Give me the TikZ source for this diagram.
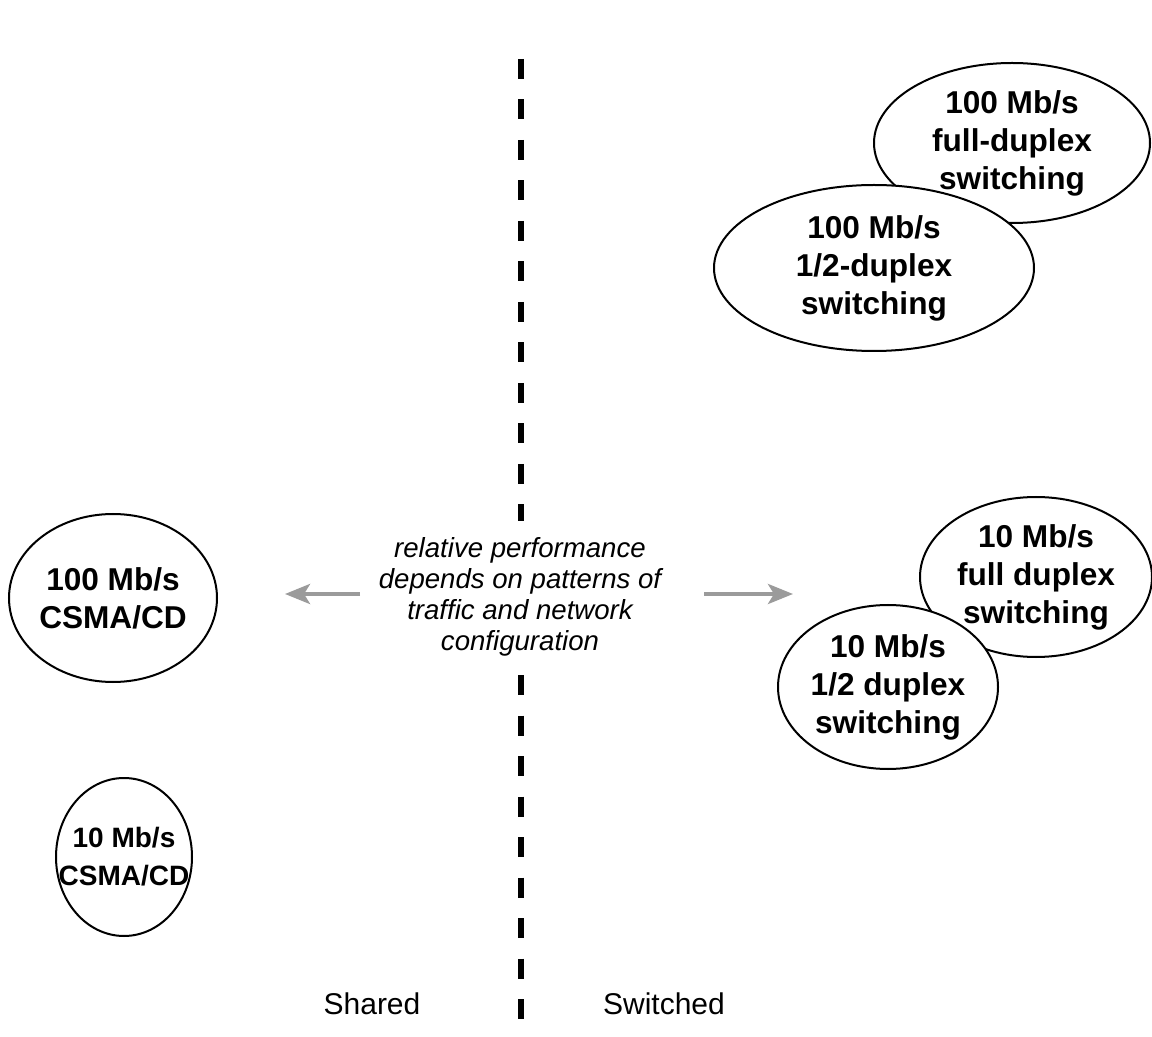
\documentclass[tikz,border=0pt]{standalone}
\usepackage{fontspec}
\setmainfont{Liberation Sans}
\usepackage{tikz}
\usetikzlibrary{shapes.geometric,arrows.meta}
\definecolor{arrowgray}{RGB}{155,155,155}

\begin{document}
\begin{tikzpicture}[x=0.5pt,y=-0.5pt,
                    bubble/.style={ellipse,draw,line width=1pt,fill=white,inner sep=0pt},
                    bubble text/.style={align=center,font=\fontsize{15.8}{19}\selectfont\bfseries},
                    divider/.style={line width=3pt,dash pattern=on 10pt off 10.25pt},
                    side arrow/.style={line width=2pt,arrowgray,-{Stealth[length=12.5pt,width=10pt,inset=3pt]}}]
\useasboundingbox (0,0) rectangle (1152,1037);

\node[bubble,minimum width=138pt,minimum height=80pt] (FullHundred) at (1012,143) {};
\node[bubble text] (FullHundredText) at (FullHundred) {100 Mb/s\\full-duplex\\switching};
\node[bubble,minimum width=160pt,minimum height=83pt] (HalfHundred) at (874,268) {};
\node[bubble text] (HalfHundredText) at (HalfHundred) {100 Mb/s\\1/2-duplex\\switching};

\node[bubble,minimum width=116pt,minimum height=80pt] (FullTen) at (1036,577) {};
\node[bubble text] (FullTenText) at (FullTen) {10 Mb/s\\full duplex\\switching};
\node[bubble,minimum width=110pt,minimum height=82pt] (HalfTen) at (888,687) {};
\node[bubble text] (HalfTenText) at (HalfTen) {10 Mb/s\\1/2 duplex\\switching};

\node[bubble,minimum width=104pt,minimum height=84pt] (CsmaHundred) at (113,598) {};
\node[bubble text] (CsmaHundredText) at (CsmaHundred) {100 Mb/s\\CSMA/CD};
\node[bubble,minimum width=68pt,minimum height=79pt] (CsmaTen) at (124,857) {};
\node[bubble text,font=\fontsize{14}{19}\selectfont\bfseries] (CsmaTenText) at (CsmaTen) {10 Mb/s\\CSMA/CD};

\node[align=center,font=\fontsize{13.8}{15.5}\selectfont\itshape] (Note) at (520,597)
    {relative performance\\depends on patterns of\\traffic and network\\configuration};

\coordinate (DividerTop) at (521,59);
\coordinate (DividerGapTop) at (521,521);
\coordinate (DividerGapBottom) at (521,675);
\coordinate (DividerBottom) at (521,1020);
\draw[divider] (DividerTop) -- (DividerGapTop);
\draw[divider] (DividerGapBottom) -- (DividerBottom);

\coordinate (SharedStart) at (360,594);
\coordinate (SharedEnd) at (285,594);
\coordinate (SwitchedStart) at (704,594);
\coordinate (SwitchedEnd) at (793,594);
\draw[side arrow] (SharedStart) -- (SharedEnd);
\draw[side arrow] (SwitchedStart) -- (SwitchedEnd);

\node[font=\fontsize{15}{18}\selectfont] (SharedLabel) at (372,1004) {Shared};
\node[font=\fontsize{15}{18}\selectfont] (SwitchedLabel) at (664,1004) {Switched};
\end{tikzpicture}
\end{document}
